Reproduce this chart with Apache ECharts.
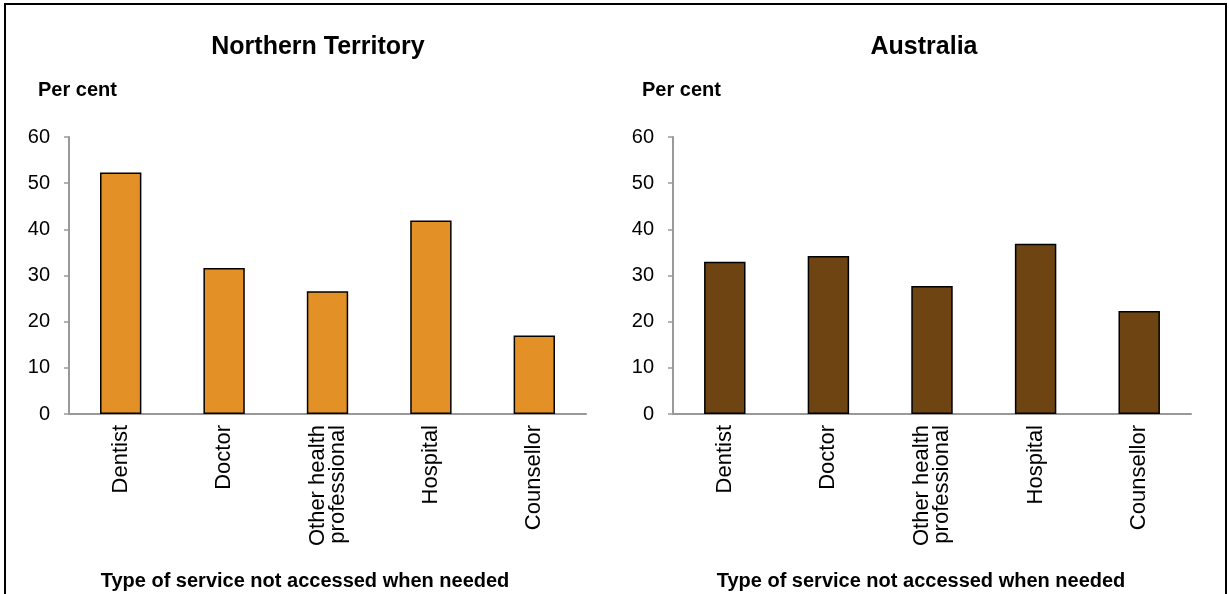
<!DOCTYPE html>
<html><head><meta charset="utf-8">
<script src="https://cdn.jsdelivr.net/npm/echarts@6/dist/echarts.min.js"></script>
<style>html,body{margin:0;padding:0;background:#fff}#c{width:1229px;height:594px}</style>
</head><body><div id="c"></div>
<script>
const categories = ['Dentist', 'Doctor', 'Other health\nprofessional', 'Hospital', 'Counsellor'];
const ntValues = [52.3, 31.6, 26.6, 41.9, 17.0];
const ausValues = [33.0, 34.2, 27.7, 36.9, 22.3];
const panelTitles = ['Northern Territory', 'Australia'];
const yAxisTitle = 'Per cent';
const xAxisTitle = 'Type of service not accessed when needed';

const FONT = 'Liberation Sans, Arial, sans-serif';
const chart = echarts.init(document.getElementById('c'), null, {renderer: 'canvas'});
const grids = [
  {left: 69, right: 643, top: 137, bottom: 180},
  {left: 673, right: 38, top: 137, bottom: 180}
];
function xAxis(i) {
  return {
    type: 'category', gridIndex: i, data: categories,
    axisLine: {lineStyle: {color: '#999', width: 2}},
    axisTick: {show: false},
    axisLabel: {rotate: 90, color: '#000', fontSize: 22, fontFamily: FONT, margin: 11, lineHeight: 20, interval: 0}
  };
}
function yAxis(i) {
  return {
    type: 'value', gridIndex: i, min: 0, max: 60, interval: 10,
    axisLine: {show: true, lineStyle: {color: '#999', width: 2}},
    axisTick: {show: true, length: 5, lineStyle: {color: '#999', width: 1.5}},
    splitLine: {show: false},
    axisLabel: {color: '#000', fontSize: 20, fontFamily: FONT, margin: 19}
  };
}
const bold = (size) => ({fontSize: size, fontWeight: 'bold', color: '#000', fontFamily: FONT});
chart.setOption({
  animation: false,
  title: [
    {text: panelTitles[0], left: 313, top: 30, textAlign: 'center', textStyle: bold(25)},
    {text: panelTitles[1], left: 919, top: 30, textAlign: 'center', textStyle: bold(25)},
    {text: yAxisTitle, left: 33, top: 75, textStyle: bold(20)},
    {text: yAxisTitle, left: 637, top: 75, textStyle: bold(20)},
    {text: xAxisTitle, left: 300, top: 566, textAlign: 'center', textStyle: bold(20)},
    {text: xAxisTitle, left: 916, top: 566, textAlign: 'center', textStyle: bold(20)}
  ],
  graphic: [{type: 'rect', shape: {x: 5, y: 4, width: 1221, height: 600}, style: {fill: 'none', stroke: '#000', lineWidth: 2}, silent: true}],
  grid: grids,
  xAxis: [xAxis(0), xAxis(1)],
  yAxis: [yAxis(0), yAxis(1)],
  series: [
    {type: 'bar', xAxisIndex: 0, yAxisIndex: 0, data: ntValues, barWidth: '40%',
     itemStyle: {color: '#E39027', borderColor: '#000', borderWidth: 1.5}},
    {type: 'bar', xAxisIndex: 1, yAxisIndex: 1, data: ausValues, barWidth: '40%',
     itemStyle: {color: '#6E4413', borderColor: '#000', borderWidth: 1.5}}
  ]
});
</script></body></html>
